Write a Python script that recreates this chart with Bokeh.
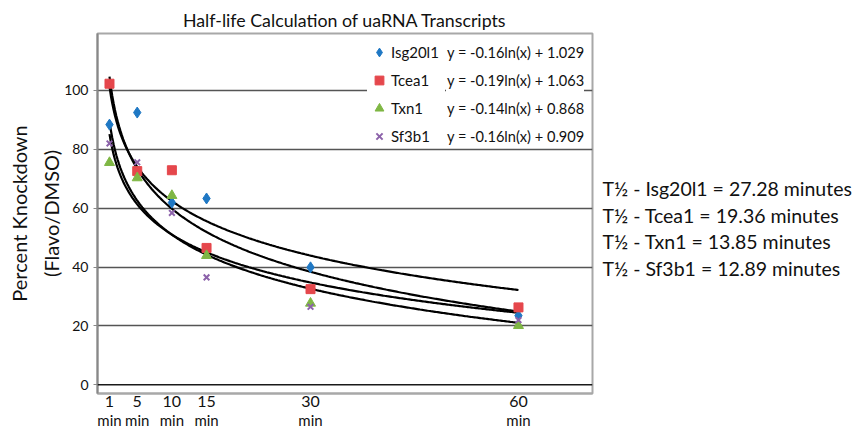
import numpy as np
from bokeh.plotting import figure
from bokeh.layouts import row
from bokeh.models import (FixedTicker, LinearAxis, Legend, LegendItem,
                          Span, Range1d)
from bokeh.core.properties import value
from bokeh.embed import file_html
from bokeh.resources import INLINE

# ---------------- data ----------------
minutes = [1, 5, 10, 15, 30, 60]
x_tick_numbers = ["1", "5", "10", "15", "30", "60"]
x_tick_units = ["min", "min", "min", "min", "min", "min"]
y_ticks = [0, 20, 40, 60, 80, 100]

genes = ["Isg20l1", "Tcea1", "Txn1", "Sf3b1"]
isg20l1 = [88.4, 92.5, 61.9, 63.3, 39.9, 23.5]
tcea1 = [102.3, 72.6, 72.9, 46.5, 32.5, 26.3]
txn1 = [75.5, 70.3, 64.3, 43.9, 27.7, 20.1]
sf3b1 = [82.0, 75.6, 58.4, 36.5, 26.5, 22.0]
equations = ["y = -0.16ln(x) + 1.029", "y = -0.19ln(x) + 1.063",
             "y = -0.14ln(x) + 0.868", "y = -0.16ln(x) + 0.909"]
half_life_texts = ["T\u00bd - Isg20l1 = 27.28 minutes",
                   "T\u00bd - Tcea1 = 19.36 minutes",
                   "T\u00bd - Txn1 = 13.85 minutes",
                   "T\u00bd - Sf3b1 = 12.89 minutes"]
title_text = "Half-life Calculation of uaRNA Transcripts"
y_label = "Percent Knockdown\n(Flavo/DMSO)"

series = [isg20l1, tcea1, txn1, sf3b1]
markers = ["diamond", "square", "triangle", "x"]
colors = ["#1f78c4", "#e5474c", "#7fb744", "#8c62aa"]
sizes = [11, 9, 10, 8]

FONT = "Lato"
TXT = "#111111"

# frame placement on the page
FL, FT, FB = 97, 33, 393  # frame left, top, bottom (page px)
LEG_DX, LEG_DY = 2, 3  # empirical legend offset correction


def leg_loc(page_left, page_bottom):
    return (page_left - FL + LEG_DX, FB - page_bottom + LEG_DY)


p = figure(frame_width=495, frame_height=FB - FT,
           x_range=Range1d(-0.731, 70.68), y_range=Range1d(-2.96, 119.36),
           output_backend="svg", toolbar_location=None,
           min_border_left=FL, min_border_right=8, min_border_top=FT,
           min_border_bottom=0, background_fill_color="white",
           border_fill_color="white", title=title_text)

p.title.align = "center"
p.title.text_font = FONT
p.title.text_font_size = "17.8px"
p.title.text_font_style = "normal"
p.title.text_color = TXT
p.title.standoff = 6

p.outline_line_color = "#a8a8a8"
p.outline_line_width = 2
p.xgrid.visible = False
p.ygrid.ticker = FixedTicker(ticks=y_ticks[1:])
p.ygrid.grid_line_color = "#555555"
p.ygrid.grid_line_width = 1.3

zero = Span(location=0, dimension="width", line_color="#1a1a1a", line_width=1.5)
p.add_layout(zero)

# y axis
ya = p.yaxis[0]
ya.ticker = FixedTicker(ticks=y_ticks)
ya.axis_line_color = "#888888"
ya.axis_line_width = 2
ya.major_tick_line_color = "#888888"
ya.major_tick_out = 4
ya.major_tick_in = 0
ya.minor_tick_line_color = None
ya.major_label_standoff = 5
ya.major_label_text_font = FONT
ya.major_label_text_font_size = "14px"
ya.major_label_text_color = TXT
ya.axis_label = y_label
ya.axis_label_text_font = FONT
ya.axis_label_text_font_size = "20px"
ya.axis_label_text_font_style = "normal"
ya.axis_label_text_color = TXT
ya.axis_label_text_line_height = 1.35
ya.axis_label_standoff = -2

# x axis (numbers)
xa = p.xaxis[0]
xa.ticker = FixedTicker(ticks=minutes)
xa.major_label_overrides = {m: t for m, t in zip(minutes, x_tick_numbers)}
xa.axis_line_color = "#a8a8a8"
xa.axis_line_width = 2
xa.major_tick_line_color = None
xa.minor_tick_line_color = None
xa.major_tick_out = 0
xa.major_tick_in = 0
xa.major_label_standoff = 2
xa.major_label_text_font = FONT
xa.major_label_text_font_size = "16px"
xa.major_label_text_color = TXT

# x axis (units line)
xa2 = LinearAxis(ticker=FixedTicker(ticks=minutes),
                 major_label_overrides={m: t for m, t in zip(minutes, x_tick_units)})
xa2.axis_line_color = None
xa2.major_tick_line_color = None
xa2.minor_tick_line_color = None
xa2.major_tick_out = 0
xa2.major_tick_in = 0
xa2.major_label_standoff = 1
xa2.major_label_text_font = FONT
xa2.major_label_text_font_size = "15px"
xa2.major_label_text_color = TXT
p.add_layout(xa2, "below")

# logarithmic trend lines fitted to each series
x_arr = np.array(minutes, dtype=float)
xs_curve = np.linspace(x_arr.min(), x_arr.max(), 300)
for ys in series:
    slope, intercept = np.polyfit(np.log(x_arr), np.array(ys), 1)
    p.line(xs_curve, slope * np.log(xs_curve) + intercept,
           line_color="black", line_width=2.2)

# scatter points
items = []
for name, ys, mk, col, sz in zip(genes, series, markers, colors, sizes):
    if mk == "x":
        r = p.scatter(minutes, ys, marker=mk, size=sz, line_color=col,
                      line_width=2)
    else:
        r = p.scatter(minutes, ys, marker=mk, size=sz, fill_color=col,
                      line_color=col)
    items.append(LegendItem(label=name, renderers=[r]))

# invisible renderer used only to carry the equation texts in a legend
blank = p.scatter(x=[], y=[], size=1, fill_alpha=0, line_alpha=0)
eq_items = [LegendItem(label=eq, renderers=[blank]) for eq in equations]

common = dict(orientation="vertical", border_line_color=None,
              background_fill_color="white", background_fill_alpha=1.0,
              label_text_color=TXT, label_text_font=FONT,
              glyph_height=22, label_height=22,
              spacing=6, padding=3, margin=0)

legend_eq = Legend(items=eq_items, location=leg_loc(444, 150),
                   label_text_font_size="14.6px",
                   glyph_width=1, label_standoff=0, label_width=10, **common)
p.add_layout(legend_eq)

legend = Legend(items=items, location=leg_loc(365, 150),
                label_text_font_size="15px",
                glyph_width=24, label_standoff=-3, label_width=54, **common)
p.add_layout(legend)

# half-life annotations in a side panel; its frame lines up with the main
# frame, so the y range spans the same page rows (layout coordinates)
SIDE_W = 252
p2 = figure(frame_width=SIDE_W, frame_height=FB - FT,
            x_range=Range1d(0, SIDE_W), y_range=Range1d(FB, FT),
            output_backend="svg", toolbar_location=None, min_border=0,
            x_axis_location=None, y_axis_location=None,
            outline_line_color=None,
            background_fill_color="white", border_fill_color="white")
p2.title = None
p2.grid.visible = False
hl_x = [2, 2, 2, 2]
hl_y = [188, 214.5, 241, 267.5]
p2.text(x=hl_x, y=hl_y, text=half_life_texts, text_font=value(FONT),
        text_font_size="19.5px", text_color=TXT, text_align="left",
        text_baseline="middle")

layout = row(p, p2)
open("out.html", "w").write(file_html(layout, INLINE))
